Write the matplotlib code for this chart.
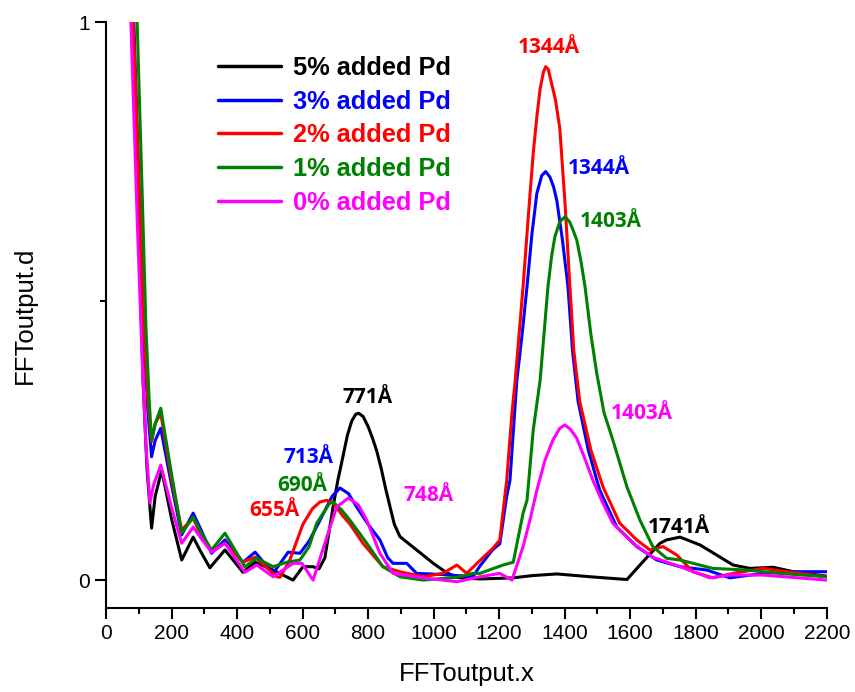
"""FFT output of films with different amounts of added Pd."""

import matplotlib

matplotlib.use("Agg")
import matplotlib.pyplot as plt
from matplotlib.ticker import MultipleLocator

# 5% added Pd
x_5 = [70, 82, 100, 113, 125, 139, 150, 170, 200, 231, 266, 290, 317, 363, 418,
       455, 510, 571, 601, 632, 650, 668, 693, 708, 723, 737, 750, 762, 771, 785,
       800, 813, 826, 840, 853, 867, 880, 897, 948, 999, 1040, 1071, 1141, 1243,
       1300, 1376, 1477, 1590, 1639, 1691, 1711, 1752, 1813, 1914, 1965, 2036,
       2098, 2200]
y_5 = [1.15, 1.0, 0.62, 0.358, 0.2, 0.093, 0.15, 0.197, 0.11, 0.036, 0.077, 0.05,
       0.022, 0.054, 0.014, 0.032, 0.018, 0.0, 0.024, 0.024, 0.02, 0.04, 0.131,
       0.18, 0.221, 0.26, 0.285, 0.297, 0.299, 0.293, 0.275, 0.255, 0.232, 0.20,
       0.165, 0.131, 0.10, 0.078, 0.054, 0.030, 0.013, 0.005, 0.002, 0.004, 0.008,
       0.011, 0.006, 0.001, 0.033, 0.066, 0.072, 0.077, 0.063, 0.027, 0.021,
       0.023, 0.015, 0.007]

# 3% added Pd
x_3 = [70, 85, 100, 115, 128, 139, 150, 167, 200, 231, 266, 290, 322, 363, 418,
       455, 510, 556, 592, 620, 653, 690, 714, 740, 765, 800, 836, 860, 876, 918,
       948, 1028, 1120, 1141, 1181, 1202, 1223, 1233, 1254, 1270, 1285, 1300,
       1315, 1330, 1342, 1355, 1366, 1376, 1393, 1410, 1424, 1441, 1472, 1507,
       1559, 1620, 1681, 1752, 1834, 1904, 2005, 2108, 2200]
y_3 = [1.15, 1.0, 0.72, 0.45, 0.3, 0.221, 0.25, 0.272, 0.17, 0.081, 0.12, 0.09,
       0.048, 0.072, 0.032, 0.05, 0.012, 0.05, 0.048, 0.07, 0.107, 0.15, 0.165,
       0.155, 0.131, 0.10, 0.072, 0.04, 0.03, 0.03, 0.012, 0.01, 0.006, 0.025,
       0.055, 0.065, 0.15, 0.179, 0.358, 0.44, 0.526, 0.62, 0.693, 0.725, 0.732,
       0.722, 0.705, 0.68, 0.61, 0.526, 0.41, 0.32, 0.233, 0.161, 0.095, 0.06,
       0.036, 0.024, 0.018, 0.004, 0.012, 0.015, 0.015]

# 2% added Pd
x_2 = [70, 83, 100, 115, 128, 139, 150, 167, 200, 231, 266, 290, 322, 363, 418,
       455, 521, 531, 561, 601, 630, 653, 674, 693, 723, 745, 784, 845, 897, 968,
       1028, 1071, 1101, 1141, 1181, 1202, 1223, 1239, 1249, 1273, 1290, 1304,
       1315, 1325, 1335, 1342, 1350, 1360, 1372, 1385, 1401, 1416, 1428, 1446,
       1480, 1517, 1568, 1620, 1660, 1700, 1742, 1791, 1852, 1914, 2005, 2078,
       2200]
y_2 = [1.15, 1.0, 0.72, 0.46, 0.32, 0.248, 0.28, 0.299, 0.18, 0.090, 0.111, 0.08,
       0.051, 0.066, 0.032, 0.041, 0.006, 0.005, 0.036, 0.10, 0.128, 0.14, 0.143,
       0.138, 0.115, 0.10, 0.066, 0.024, 0.015, 0.006, 0.012, 0.027, 0.012, 0.035,
       0.057, 0.072, 0.179, 0.299, 0.358, 0.526, 0.66, 0.765, 0.83, 0.88, 0.91,
       0.92, 0.915, 0.89, 0.86, 0.81, 0.675, 0.526, 0.41, 0.32, 0.233, 0.167,
       0.102, 0.072, 0.054, 0.06, 0.045, 0.015, 0.004, 0.012, 0.021, 0.015, 0.006]

# 1% added Pd
x_1 = [70, 95, 110, 122, 132, 139, 150, 167, 200, 231, 266, 290, 322, 363, 424,
       460, 510, 552, 592, 620, 643, 683, 693, 720, 745, 796, 845, 897, 968, 1071,
       1120, 1141, 1212, 1243, 1273, 1285, 1304, 1325, 1349, 1360, 1370, 1385,
       1401, 1415, 1427, 1437, 1450, 1462, 1480, 1498, 1520, 1547, 1590, 1630,
       1669, 1711, 1752, 1852, 1955, 2056, 2200]
y_1 = [1.15, 1.0, 0.7, 0.45, 0.32, 0.251, 0.28, 0.308, 0.19, 0.084, 0.113, 0.085,
       0.054, 0.084, 0.024, 0.039, 0.024, 0.032, 0.036, 0.06, 0.102, 0.138, 0.14,
       0.125, 0.107, 0.066, 0.024, 0.006, 0.0, 0.005, 0.012, 0.012, 0.027, 0.032,
       0.12, 0.143, 0.269, 0.358, 0.526, 0.58, 0.615, 0.642, 0.651, 0.642, 0.625,
       0.609, 0.57, 0.526, 0.44, 0.37, 0.30, 0.251, 0.167, 0.107, 0.06, 0.039,
       0.036, 0.021, 0.018, 0.012, 0.006]

# 0% added Pd
x_0 = [65, 76, 95, 110, 122, 134, 145, 167, 200, 231, 266, 290, 322, 363, 424,
       460, 510, 571, 598, 632, 674, 704, 740, 770, 796, 836, 876, 968, 1071,
       1141, 1202, 1239, 1273, 1295, 1315, 1340, 1364, 1385, 1401, 1418, 1437,
       1460, 1486, 1515, 1547, 1608, 1669, 1752, 1843, 1904, 2005, 2200]
y_0 = [1.15, 1.0, 0.65, 0.40, 0.24, 0.138, 0.17, 0.206, 0.13, 0.066, 0.095, 0.075,
       0.05, 0.066, 0.014, 0.027, 0.006, 0.030, 0.030, 0.0, 0.077, 0.131, 0.147,
       0.135, 0.107, 0.048, 0.012, 0.004, -0.003, 0.006, 0.012, 0.0, 0.06, 0.11,
       0.161, 0.215, 0.251, 0.272, 0.278, 0.27, 0.254, 0.22, 0.179, 0.14, 0.102,
       0.066, 0.041, 0.024, 0.004, 0.009, 0.009, 0.0]

series = [
    ("5% added Pd", x_5, y_5, "#000000"),
    ("3% added Pd", x_3, y_3, "#0000ff"),
    ("2% added Pd", x_2, y_2, "#ff0000"),
    ("1% added Pd", x_1, y_1, "#008000"),
    ("0% added Pd", x_0, y_0, "#ff00ff"),
]

# peak labels: text, x, y, colour
peak_text = ["771Å", "713Å", "690Å", "655Å", "748Å",
             "1344Å", "1344Å", "1403Å", "1403Å", "1741Å"]
peak_x = [797, 619, 598, 513, 986, 1352, 1504, 1541, 1636, 1748]
peak_y = [0.328, 0.22, 0.170, 0.124, 0.152, 0.955, 0.738, 0.643, 0.299, 0.095]
peak_color = ["#000000", "#0000ff", "#008000", "#ff0000", "#ff00ff",
              "#ff0000", "#0000ff", "#008000", "#ff00ff", "#000000"]

ARIAL = ["Liberation Sans", "DejaVu Sans"]


def main() -> None:
    fig = plt.figure(figsize=(8.55, 6.92), dpi=100, facecolor="white")
    ax = fig.add_axes([0.124, 0.1214, 0.843, 0.8468])

    for label, xs, ys, color in series:
        ax.plot(xs, ys, color=color, linewidth=2.2, label=label,
                solid_joinstyle="round", solid_capstyle="round")

    for t, px, py, c in zip(peak_text, peak_x, peak_y, peak_color):
        ax.text(px, py, t, color=c, fontsize=15, fontweight="bold",
                family=["Open Sans", "DejaVu Sans"], ha="center", va="center")

    ax.set_xlim(0, 2200)
    ax.set_ylim(-0.05, 1.0)
    ax.xaxis.set_major_locator(MultipleLocator(200))
    ax.xaxis.set_minor_locator(MultipleLocator(100))
    ax.set_yticks([0, 1])
    ax.set_yticks([0.5], minor=True)
    ax.tick_params(which="major", direction="out", length=8, width=1.5)
    ax.tick_params(which="minor", direction="out", length=4.5, width=1.5)

    for lab in ax.get_xticklabels() + ax.get_yticklabels():
        lab.set_family(ARIAL)
        lab.set_fontsize(15)

    for side in ("top", "right"):
        ax.spines[side].set_visible(False)
    for side in ("left", "bottom"):
        ax.spines[side].set_linewidth(1.5)

    ax.set_xlabel("FFToutput.x", fontsize=18.5, family=ARIAL, labelpad=13.5)
    ax.set_ylabel("FFToutput.d", fontsize=18.5, family=ARIAL, labelpad=30)

    leg = ax.legend(loc="upper left", bbox_to_anchor=(0.255, 0.919),
                    bbox_transform=fig.transFigure, frameon=False,
                    borderpad=0, borderaxespad=0, handlelength=2.48,
                    handletextpad=0.48, labelspacing=0.38,
                    prop={"family": ARIAL, "weight": "bold", "size": 18.3})
    for text, line in zip(leg.get_texts(), leg.get_lines()):
        text.set_color(line.get_color())
        line.set_linewidth(2.5)

    fig.savefig("out.png", dpi=100, facecolor="white")
    plt.close(fig)


if __name__ == "__main__":
    main()
